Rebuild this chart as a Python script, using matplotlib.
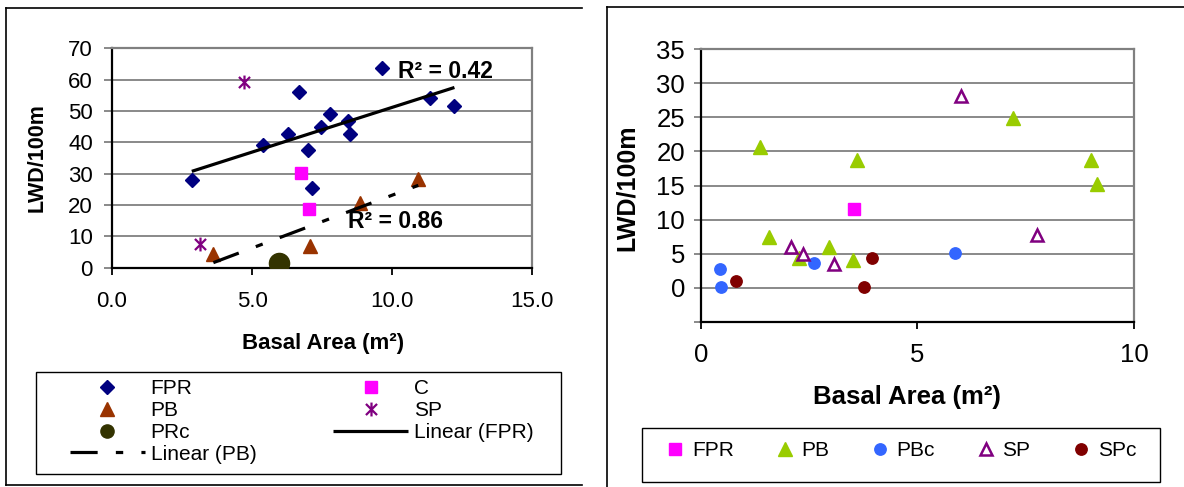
import numpy as np
import matplotlib
matplotlib.use("Agg")
import matplotlib.pyplot as plt
from matplotlib.path import Path
from matplotlib.lines import Line2D
from matplotlib.patches import Rectangle

plt.rcParams['font.family'] = ['Liberation Sans', 'DejaVu Sans']

# ---- left panel: LWD vs basal area, with linear fits ----
fpr_x = [2.85, 5.40, 6.29, 6.69, 7.00, 7.15, 7.48, 7.79, 8.42, 8.50, 9.64, 11.36, 12.23]
fpr_y = [27.9, 39.0, 42.7, 56.1, 37.6, 25.5, 44.9, 49.1, 46.8, 42.5, 63.8, 54.0, 51.6]
c_x = [6.75, 7.04]
c_y = [30.2, 18.6]
pb_x = [3.62, 7.07, 8.86, 10.94]
pb_y = [4.5, 7.0, 20.7, 28.2]
sp_x = [4.71, 3.14]
sp_y = [59.3, 7.7]
prc_x = [5.96]
prc_y = [1.6]

left_xticks = [0, 5, 10, 15]
left_yticks = [0, 10, 20, 30, 40, 50, 60, 70]

# ---- right panel ----
r_fpr_x = [3.53]
r_fpr_y = [11.6]
r_pb_x = [1.38, 1.57, 2.26, 2.95, 3.51, 3.61, 7.20, 9.00, 9.14]
r_pb_y = [20.7, 7.5, 4.3, 5.9, 4.1, 18.7, 24.9, 18.7, 15.2]
r_pbc_x = [0.44, 0.48, 2.61, 5.88]
r_pbc_y = [2.8, 0.15, 3.6, 5.1]
r_sp_x = [2.08, 2.35, 3.08, 6.00, 7.75]
r_sp_y = [6.0, 4.9, 3.4, 28.1, 7.8]
r_spc_x = [0.82, 3.76, 3.95]
r_spc_y = [1.0, 0.15, 4.3]

right_xticks = [0, 5, 10]
right_yticks = [-5, 0, 5, 10, 15, 20, 25, 30, 35]
right_yticklabels = ['', '0', '5', '10', '15', '20', '25', '30', '35']

W, H = 1184, 487
fig = plt.figure(figsize=(W / 100, H / 100), dpi=100)


def fx(px):
    return px / W


def fy(py):
    return 1 - py / H


GRID = '#808080'

ax1 = fig.add_axes([fx(112), fy(267.7), (532 - 112) / W, (267.7 - 48.3) / H])
ax2 = fig.add_axes([fx(700.7), fy(321.7), (1134 - 700.7) / W, (321.7 - 49.3) / H])


def style_axes(ax, tick_fs, ypad, xpad, ylen, xlen):
    ax.yaxis.grid(True, color=GRID, lw=1.3)
    ax.set_axisbelow(True)
    for s in ('left', 'bottom'):
        ax.spines[s].set_color('black')
        ax.spines[s].set_linewidth(1.6)
    for s in ('top', 'right'):
        ax.spines[s].set_color(GRID)
        ax.spines[s].set_linewidth(1.6)
    ax.tick_params(axis='y', direction='out', length=ylen, width=1.3,
                   color=GRID, labelsize=tick_fs, pad=ypad)
    ax.tick_params(axis='x', direction='out', length=xlen, width=1.3,
                   color='black', labelsize=tick_fs, pad=xpad)


# left panel drawing
style_axes(ax1, 16, 8, 12, 5.8, 5)
ax1.set_xlim(0, 15)
ax1.set_ylim(0, 70)
ax1.set_xticks(left_xticks)
ax1.set_xticklabels([f'{v:.1f}' for v in left_xticks])
ax1.set_yticks(left_yticks)

asterisk = Path([(0, -1), (0, 1), (-0.8, -0.8), (0.8, 0.8), (-0.8, 0.8), (0.8, -0.8)],
                [Path.MOVETO, Path.LINETO] * 3)

st_fpr = dict(ls='none', marker='D', ms=7, color='#000080', mec='#000080')
st_c = dict(ls='none', marker='s', ms=8, color='#FF00FF', mec='#FF00FF')
st_pb = dict(ls='none', marker='^', ms=9.5, color='#993300', mec='#993300')
st_sp = dict(ls='none', marker=asterisk, ms=10, mfc='none', mec='#800080', mew=1.6)
st_prc = dict(ls='none', marker='o', ms=14.5, color='#333300', mec='#333300')

ax1.plot(fpr_x, fpr_y, zorder=3, **st_fpr)
ax1.plot(c_x, c_y, zorder=3, **st_c)
ax1.plot(pb_x, pb_y, zorder=3, **st_pb)
ax1.plot(sp_x, sp_y, zorder=3, **st_sp)
ax1.plot(prc_x, prc_y, zorder=3, **st_prc)

# least squares fits
k_fpr, b_fpr = np.polyfit(fpr_x, fpr_y, 1)
k_pb, b_pb = np.polyfit(pb_x, pb_y, 1)
r2_fpr = np.corrcoef(fpr_x, fpr_y)[0, 1] ** 2
r2_pb = np.corrcoef(pb_x, pb_y)[0, 1] ** 2

xf = np.array([min(fpr_x), max(fpr_x)])
xp = np.array([min(pb_x), max(pb_x)])
st_lin_fpr = dict(color='black', lw=2.3, solid_capstyle='butt')
st_lin_pb = dict(color='black', lw=2.3, dash_capstyle='butt',
                 dashes=(8.5, 5.7, 2.3, 5.7))
ax1.plot(xf, k_fpr * xf + b_fpr, zorder=4, **st_lin_fpr)
ax1.plot(xp, k_pb * xp + b_pb, zorder=4, **st_lin_pb)

ax1.text(10.2, 62.5, f'R² = {r2_fpr:.2f}', fontsize=16.5, fontweight='bold',
         ha='left', va='center', zorder=5)
ax1.text(8.43, 14.7, f'R² = {r2_pb:.2f}', fontsize=16.5, fontweight='bold',
         ha='left', va='center', zorder=5)

# right panel drawing
style_axes(ax2, 18.5, 6, 10, 5.3, 5)
ax2.set_xlim(0, 10)
ax2.set_ylim(-5, 35)
ax2.set_xticks(right_xticks)
ax2.set_yticks(right_yticks)
ax2.set_yticklabels(right_yticklabels)

r_st_fpr = dict(ls='none', marker='s', ms=8.5, color='#FF00FF', mec='#FF00FF')
r_st_pb = dict(ls='none', marker='^', ms=10, color='#99CC00', mec='#99CC00')
r_st_pbc = dict(ls='none', marker='o', ms=8.2, color='#3366FF', mec='#3366FF')
r_st_sp = dict(ls='none', marker='^', ms=9, mfc='white', mec='#800080', mew=1.8)
r_st_spc = dict(ls='none', marker='o', ms=8.2, color='#800000', mec='#800000')

ax2.plot(r_fpr_x, r_fpr_y, zorder=3, **r_st_fpr)
ax2.plot(r_pb_x, r_pb_y, zorder=3, **r_st_pb)
ax2.plot(r_pbc_x, r_pbc_y, zorder=3, **r_st_pbc)
ax2.plot(r_sp_x, r_sp_y, zorder=3, **r_st_sp)
ax2.plot(r_spc_x, r_spc_y, zorder=3, **r_st_spc)

# axis titles
fig.text(fx(37.5), fy(158), 'LWD/100m', rotation=90, fontsize=15.5,
         fontweight='bold', ha='center', va='center')
fig.text(fx(323.5), fy(343.3), 'Basal Area (m²)', fontsize=16,
         fontweight='bold', ha='center', va='center')
fig.text(fx(627.3), fy(188), 'LWD/100m', rotation=90, fontsize=18,
         fontweight='bold', ha='center', va='center')
fig.text(fx(906.7), fy(396.7), 'Basal Area (m²)', fontsize=18.5,
         fontweight='bold', ha='center', va='center')

# left legend (column-major order for two columns)
leg_prc = dict(st_prc, ms=9.5)
h = [Line2D([], [], **st_fpr), Line2D([], [], **st_pb), Line2D([], [], **leg_prc),
     Line2D([], [], **st_lin_pb),
     Line2D([], [], **st_c), Line2D([], [], **st_sp), Line2D([], [], **st_lin_fpr)]
lab = ['FPR', 'PB', 'PRc', 'Linear (PB)', 'C', 'SP', 'Linear (FPR)']
fig.legend(h, lab, ncol=2, mode='expand', loc='upper left',
           bbox_to_anchor=(fx(69.5), fy(474), (534 - 69.5) / W, (474 - 379.5) / H),
           frameon=False, borderpad=0, borderaxespad=0, fontsize=15,
           handlelength=3.6, handletextpad=0.3, labelspacing=0.13, numpoints=1)
fig.add_artist(Rectangle((fx(36), fy(474)), (561 - 36) / W, (474 - 372.3) / H,
                         transform=fig.transFigure, fill=False, ec='black', lw=1))

# right legend
h2 = [Line2D([], [], **r_st_fpr), Line2D([], [], **r_st_pb), Line2D([], [], **r_st_pbc),
      Line2D([], [], **r_st_sp), Line2D([], [], **r_st_spc)]
lab2 = ['FPR', 'PB', 'PBc', 'SP', 'SPc']
fig.legend(h2, lab2, ncol=5, mode='expand', loc='upper left',
           bbox_to_anchor=(fx(665), fy(466), (1136 - 665) / W, (466 - 441.5) / H),
           frameon=False, borderpad=0, borderaxespad=0, fontsize=15,
           handlelength=1.0, handletextpad=0.3, numpoints=1)
fig.add_artist(Rectangle((fx(642.2), fy(481.7)), (1160.1 - 642.2) / W, (481.7 - 428.3) / H,
                         transform=fig.transFigure, fill=False, ec='black', lw=1))

# panel frames
frame = dict(color='black', lw=1.2, transform=fig.transFigure)
fig.add_artist(Line2D([fx(6.3), fx(6.3)], [fy(8), fy(485)], **frame))
fig.add_artist(Line2D([fx(6.3), fx(582)], [fy(8), fy(8)], **frame))
fig.add_artist(Line2D([fx(6.3), fx(582)], [fy(485), fy(485)], **frame))
fig.add_artist(Line2D([fx(606.7), fx(606.7)], [fy(7.3), fy(490)], **frame))
fig.add_artist(Line2D([fx(606.7), fx(1190)], [fy(7.3), fy(7.3)], **frame))

fig.savefig('out.png', dpi=100)
